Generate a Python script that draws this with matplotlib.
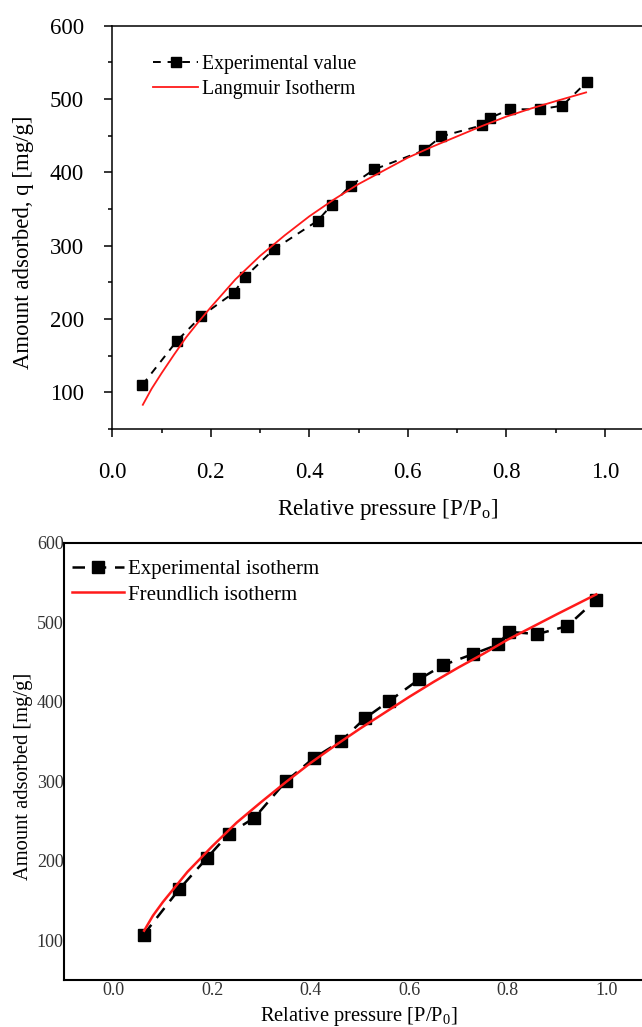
import matplotlib
matplotlib.use('Agg')
import matplotlib.pyplot as plt
from matplotlib.ticker import MultipleLocator, FixedLocator

plt.rcParams['font.family'] = ['Liberation Serif', 'DejaVu Serif']
plt.rcParams['mathtext.fontset'] = 'custom'
plt.rcParams['mathtext.rm'] = 'Liberation Serif'

# ---- top panel: experimental points + Langmuir fit ----
lang_p_exp = [0.061, 0.131, 0.181, 0.247, 0.269, 0.328, 0.417, 0.446, 0.484,
              0.532, 0.633, 0.668, 0.750, 0.766, 0.808, 0.869, 0.914, 0.963]
lang_q_exp = [110, 170, 204, 236, 257, 295, 334, 356, 382,
              404, 430, 449, 464, 474, 486, 486, 491, 523]

lang_p_fit = [0.062, 0.08, 0.10, 0.125, 0.15, 0.175, 0.20, 0.25, 0.30, 0.35,
              0.40, 0.45, 0.50, 0.55, 0.60, 0.65, 0.70, 0.75, 0.80, 0.85,
              0.90, 0.962]
lang_q_fit = [83, 105, 126, 151, 175, 196, 216, 254, 286, 314,
              340, 363, 384, 402, 420, 435, 449, 463, 476, 487,
              497, 509]

# ---- bottom panel: experimental points + Freundlich fit ----
freu_p_exp = [0.061, 0.133, 0.189, 0.234, 0.286, 0.350, 0.406, 0.461, 0.510,
              0.560, 0.620, 0.669, 0.730, 0.781, 0.802, 0.860, 0.921, 0.979]
freu_q_exp = [107, 164, 203, 234, 254, 300, 329, 350, 379,
              401, 428, 446, 460, 472, 488, 485, 495, 528]

freu_p_fit = [0.062, 0.08, 0.10, 0.125, 0.15, 0.175, 0.20, 0.25, 0.30, 0.35,
              0.40, 0.45, 0.50, 0.55, 0.60, 0.65, 0.70, 0.75, 0.80, 0.85,
              0.90, 0.98]
freu_q_fit = [112, 131, 148, 167, 186, 202, 218, 248, 274, 299,
              323, 345, 366, 386, 406, 425, 443, 460, 478, 494,
              510, 535]

x_ticks = [0.0, 0.2, 0.4, 0.6, 0.8, 1.0]

fig = plt.figure(figsize=(6.42, 10.27), dpi=100)

# top chart
ax1 = fig.add_axes([0.1749, 0.5823, 0.8439, 0.3927])
ax1.plot(lang_p_exp, lang_q_exp, color='black', lw=1.4, dashes=(4, 3.5),
         marker='s', ms=7.5, mfc='black', mec='black', label='Experimental value')
ax1.plot(lang_p_fit, lang_q_fit, color='#ff1a1a', lw=1.3, label='Langmuir Isotherm')
ax1.set_xlim(0, 1.1)
ax1.set_ylim(50, 600)
ax1.xaxis.set_major_locator(FixedLocator(x_ticks))
ax1.xaxis.set_minor_locator(MultipleLocator(0.1))
ax1.yaxis.set_major_locator(MultipleLocator(100))
ax1.yaxis.set_minor_locator(MultipleLocator(50))
ax1.xaxis.set_major_formatter(plt.FormatStrFormatter('%.1f'))
ax1.tick_params(which='both', direction='out', top=False, right=False, width=1.1)
ax1.tick_params(which='major', length=5.5, labelsize=16.5)
ax1.tick_params(which='minor', length=3)
ax1.tick_params(axis='x', which='major', pad=18)
ax1.tick_params(axis='y', which='major', pad=15)
for s in ax1.spines.values():
    s.set_linewidth(1.1)
ax1.set_xlabel(r'Relative pressure [P/P$_\mathregular{o}$]', fontsize=16.6)
ax1.set_ylabel('Amount adsorbed, q [mg/g]', fontsize=16.4)
ax1.xaxis.set_label_coords(0.508, -0.2008)
ax1.xaxis.label.set_va('center')
ax1.yaxis.set_label_coords(-0.163, 0.4637)
ax1.yaxis.label.set_va('center')
ax1.legend(loc='upper left', bbox_to_anchor=(0.075, 0.928), frameon=False,
           fontsize=14.2, handlelength=2.3, handletextpad=0.2, borderpad=0,
           borderaxespad=0, labelspacing=0.3, numpoints=1)

# bottom chart
ax2 = fig.add_axes([0.1002, 0.04577, 0.9206, 0.4258])
ax2.plot(freu_p_exp, freu_q_exp, color='black', lw=1.8, dashes=(5, 3.5),
         marker='s', ms=9.3, mfc='black', mec='black', label='Experimental isotherm')
ax2.plot(freu_p_fit, freu_q_fit, color='#ff1a1a', lw=1.8, label='Freundlich isotherm')
ax2.set_xlim(-0.1, 1.1)
ax2.set_ylim(50, 600)
ax2.xaxis.set_major_locator(FixedLocator(x_ticks))
ax2.yaxis.set_major_locator(MultipleLocator(100))
ax2.xaxis.set_major_formatter(plt.FormatStrFormatter('%.1f'))
ax2.tick_params(length=0, labelsize=13, labelcolor='#333333')
ax2.tick_params(axis='x', pad=1.5)
ax2.tick_params(axis='y', pad=0.5)
for s in ax2.spines.values():
    s.set_linewidth(1.5)
ax2.set_xlabel(r'Relative pressure [P/P$_\mathregular{0}$]', fontsize=14.8)
ax2.set_ylabel('Amount adsorbed [mg/g]', fontsize=14.8)
ax2.xaxis.set_label_coords(0.4977, -0.0839)
ax2.xaxis.label.set_va('center')
ax2.yaxis.set_label_coords(-0.0699, 0.4665)
ax2.yaxis.label.set_va('center')
ax2.legend(loc='upper left', bbox_to_anchor=(0.0125, 0.962), frameon=False,
           fontsize=15, handlelength=2.5, handletextpad=0.2, borderpad=0,
           borderaxespad=0, labelspacing=0.3, numpoints=1)

fig.savefig('out.png', dpi=100)
